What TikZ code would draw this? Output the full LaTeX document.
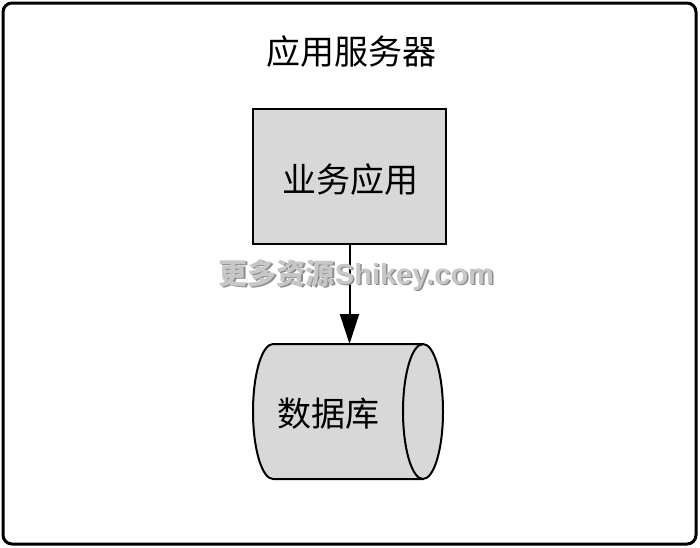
\documentclass[tikz,border=0pt]{standalone}
\usepackage{fontspec}
\newfontfamily\cjk{Noto Sans CJK SC}
\newfontfamily\wm{Liberation Sans}
\usetikzlibrary{arrows.meta}
\tikzset{
  box/.style={draw=black, line width=2pt, fill=boxgray},
  lbl/.style={font=\cjk\fontsize{34}{40}\selectfont, inner sep=0pt},
  conn/.style={draw=black, line width=2pt, -{Triangle[width=19pt,length=30pt]}},
}
\definecolor{boxgray}{RGB}{216,216,216}
\begin{document}
\begin{tikzpicture}[x=1pt,y=-1pt]
\useasboundingbox (0,0) rectangle (700,547);
% outer frame
\draw[line width=3pt, rounded corners=9pt] (3,3) rectangle (696,544);
\node[lbl] (title) at (351,52) {应用服务器};
% application box
\draw[box] (253,109) rectangle (446,244);
\node[lbl] (app) at (350,180) {业务应用};
\coordinate (appb) at (349.5,244);
% database cylinder
\fill[boxgray] (423,344) -- (273,344) arc[start angle=270,end angle=90,x radius=20,y radius=67.5] -- (423,479) arc[start angle=90,end angle=-90,x radius=20,y radius=67.5] -- cycle;
\draw[line width=2pt] (423,344) -- (273,344) arc[start angle=270,end angle=90,x radius=20,y radius=67.5] -- (423,479);
\draw[line width=2pt] (423,411.5) ellipse[x radius=20,y radius=67.5];
\node[lbl] (db) at (328,414) {数据库};
\coordinate (dbt) at (349.5,344);
\draw[conn] (appb) -- (dbt);
% watermark
\node[font=\cjk\bfseries\fontsize{29}{34}\selectfont, text=black!45, inner sep=0pt] (wm2) at (358,276.5) {更多资源{\wm Shikey.com}};
\node[font=\cjk\bfseries\fontsize{29}{34}\selectfont, text=black!22, inner sep=0pt] (wm) at (356.5,275) {更多资源{\wm Shikey.com}};
\end{tikzpicture}
\end{document}
